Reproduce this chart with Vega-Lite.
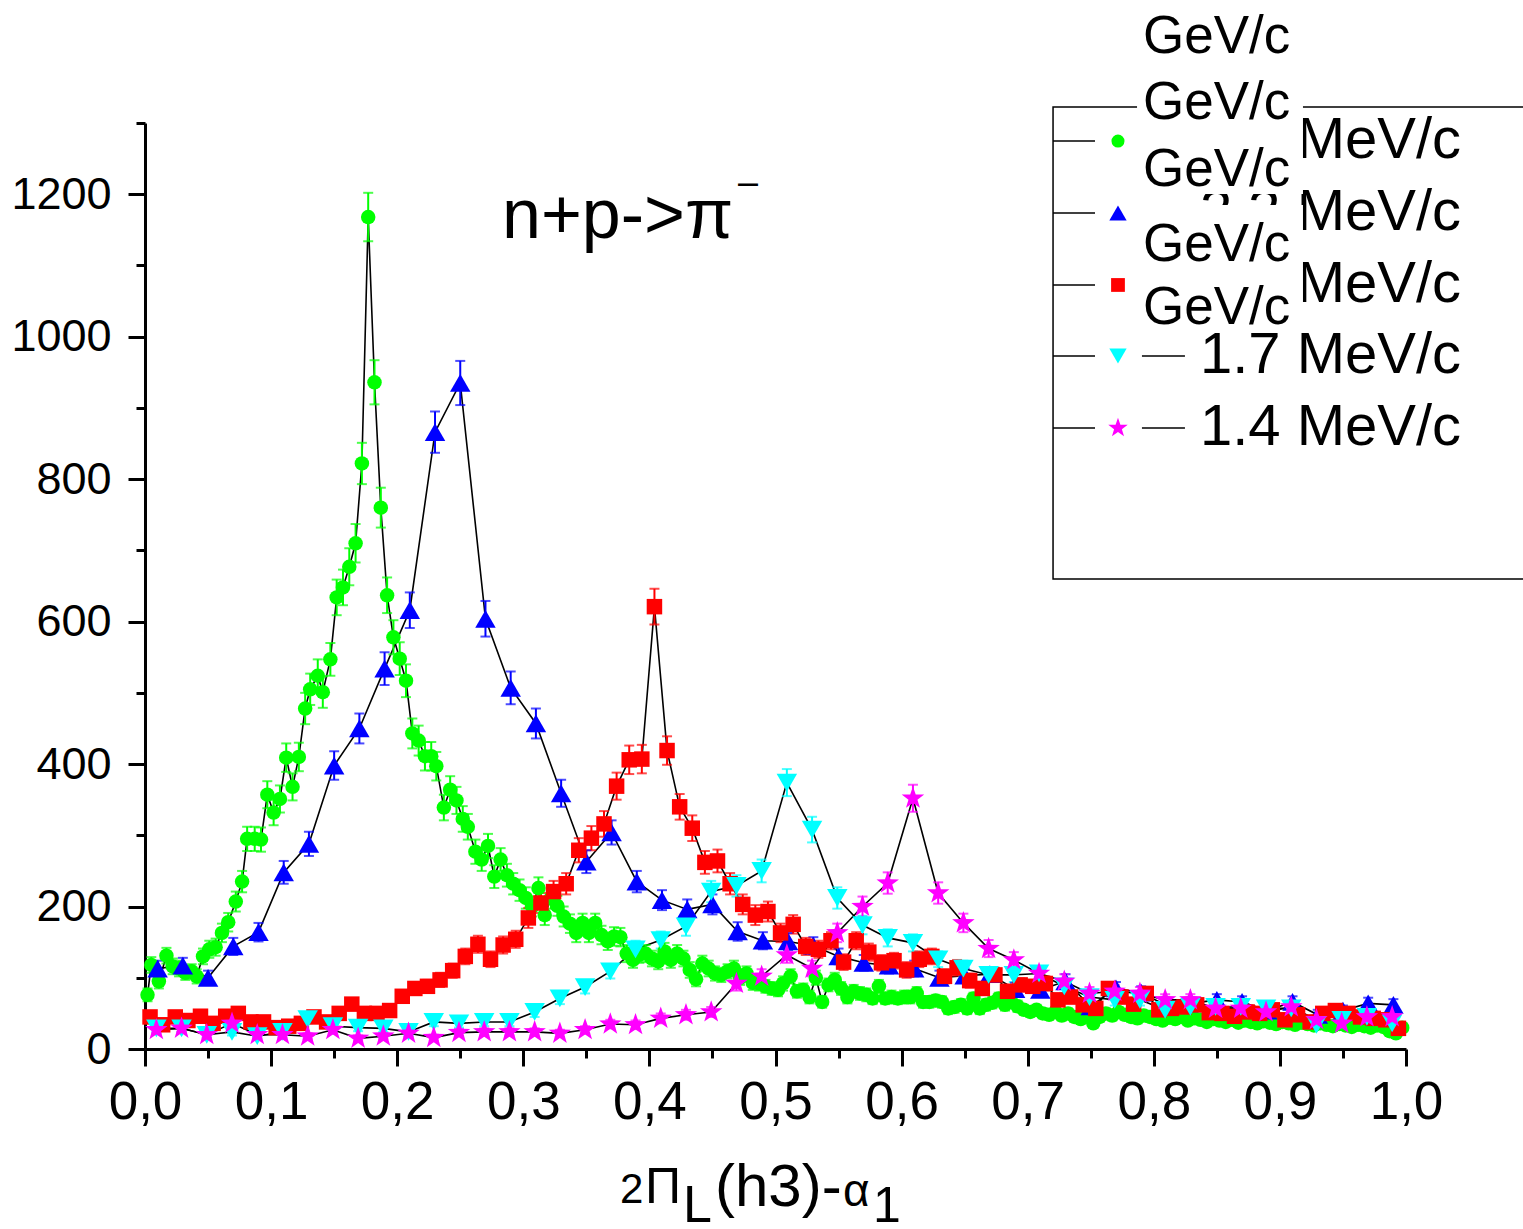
{
"$schema":"https://vega.github.io/schema/vega-lite/v6.json",
"width":1261,"height":926,
"autosize":{"type":"none"},
"padding":{"left":145,"top":123,"right":117,"bottom":180},
"background":"white",
"config":{"view":{"stroke":null},"axis":{"grid":false}},
"datasets":{"pts":[
{"s":"g","x":0.002,"y":76,"e":9},{"s":"g","x":0.005,"y":118,"e":11},{"s":"g","x":0.011,"y":95,"e":10},{"s":"g","x":0.017,"y":131,"e":11},{"s":"g","x":0.022,"y":116,"e":11},{"s":"g","x":0.027,"y":113,"e":11},{"s":"g","x":0.032,"y":107,"e":10},{"s":"g","x":0.037,"y":109,"e":10},{"s":"g","x":0.041,"y":102,"e":10},{"s":"g","x":0.046,"y":130,"e":11},{"s":"g","x":0.051,"y":140,"e":12},{"s":"g","x":0.056,"y":143,"e":12},{"s":"g","x":0.061,"y":163,"e":13},{"s":"g","x":0.066,"y":178,"e":13},{"s":"g","x":0.072,"y":207,"e":14},{"s":"g","x":0.077,"y":235,"e":15},{"s":"g","x":0.081,"y":295,"e":17},{"s":"g","x":0.087,"y":295,"e":17},{"s":"g","x":0.092,"y":294,"e":17},{"s":"g","x":0.097,"y":357,"e":19},{"s":"g","x":0.102,"y":332,"e":18},{"s":"g","x":0.107,"y":351,"e":19},{"s":"g","x":0.112,"y":409,"e":20},{"s":"g","x":0.117,"y":368,"e":19},{"s":"g","x":0.122,"y":410,"e":20},{"s":"g","x":0.127,"y":478,"e":22},{"s":"g","x":0.131,"y":505,"e":22},{"s":"g","x":0.137,"y":524,"e":23},{"s":"g","x":0.141,"y":501,"e":22},{"s":"g","x":0.147,"y":547,"e":23},{"s":"g","x":0.152,"y":634,"e":25},{"s":"g","x":0.157,"y":648,"e":25},{"s":"g","x":0.162,"y":677,"e":26},{"s":"g","x":0.167,"y":710,"e":27},{"s":"g","x":0.172,"y":822,"e":29},{"s":"g","x":0.177,"y":1168,"e":34},{"s":"g","x":0.182,"y":936,"e":31},{"s":"g","x":0.187,"y":760,"e":28},{"s":"g","x":0.192,"y":637,"e":25},{"s":"g","x":0.197,"y":578,"e":24},{"s":"g","x":0.202,"y":548,"e":23},{"s":"g","x":0.207,"y":517,"e":23},{"s":"g","x":0.212,"y":443,"e":21},{"s":"g","x":0.217,"y":433,"e":21},{"s":"g","x":0.222,"y":411,"e":20},{"s":"g","x":0.227,"y":411,"e":20},{"s":"g","x":0.231,"y":397,"e":20},{"s":"g","x":0.237,"y":339,"e":18},{"s":"g","x":0.242,"y":364,"e":19},{"s":"g","x":0.247,"y":349,"e":19},{"s":"g","x":0.252,"y":323,"e":18},{"s":"g","x":0.256,"y":312,"e":18},{"s":"g","x":0.262,"y":277,"e":17},{"s":"g","x":0.267,"y":266,"e":16},{"s":"g","x":0.272,"y":285,"e":17},{"s":"g","x":0.277,"y":242,"e":16},{"s":"g","x":0.282,"y":266,"e":16},{"s":"g","x":0.287,"y":244,"e":16},{"s":"g","x":0.292,"y":232,"e":15},{"s":"g","x":0.297,"y":223,"e":15},{"s":"g","x":0.302,"y":212,"e":15},{"s":"g","x":0.307,"y":200,"e":14},{"s":"g","x":0.312,"y":226,"e":15},{"s":"g","x":0.317,"y":188,"e":14},{"s":"g","x":0.322,"y":212,"e":15},{"s":"g","x":0.327,"y":201,"e":14},{"s":"g","x":0.332,"y":186,"e":14},{"s":"g","x":0.337,"y":176,"e":13},{"s":"g","x":0.342,"y":163,"e":13},{"s":"g","x":0.347,"y":177,"e":13},{"s":"g","x":0.352,"y":163,"e":13},{"s":"g","x":0.357,"y":177,"e":13},{"s":"g","x":0.362,"y":160,"e":13},{"s":"g","x":0.367,"y":151,"e":12},{"s":"g","x":0.372,"y":158,"e":13},{"s":"g","x":0.377,"y":157,"e":13},{"s":"g","x":0.382,"y":134,"e":12},{"s":"g","x":0.387,"y":125,"e":11},{"s":"g","x":0.392,"y":132,"e":11},{"s":"g","x":0.397,"y":134,"e":12},{"s":"g","x":0.402,"y":127,"e":11},{"s":"g","x":0.407,"y":123,"e":11},{"s":"g","x":0.412,"y":137,"e":12},{"s":"g","x":0.417,"y":125,"e":11},{"s":"g","x":0.422,"y":134,"e":12},{"s":"g","x":0.427,"y":127,"e":11},{"s":"g","x":0.432,"y":111,"e":11},{"s":"g","x":0.437,"y":98,"e":10},{"s":"g","x":0.442,"y":120,"e":11},{"s":"g","x":0.447,"y":113,"e":11},{"s":"g","x":0.452,"y":106,"e":10},{"s":"g","x":0.457,"y":104,"e":10},{"s":"g","x":0.462,"y":109,"e":10},{"s":"g","x":0.467,"y":113,"e":11},{"s":"g","x":0.472,"y":100,"e":10},{"s":"g","x":0.477,"y":106,"e":10},{"s":"g","x":0.482,"y":93,"e":10},{"s":"g","x":0.487,"y":92,"e":10},{"s":"g","x":0.492,"y":88,"e":9},{"s":"g","x":0.497,"y":85,"e":9},{"s":"g","x":0.502,"y":83,"e":9},{"s":"g","x":0.506,"y":92,"e":10},{"s":"g","x":0.512,"y":102,"e":10},{"s":"g","x":0.517,"y":81,"e":9},{"s":"g","x":0.522,"y":83,"e":9},{"s":"g","x":0.527,"y":73,"e":9},{"s":"g","x":0.532,"y":100,"e":10},{"s":"g","x":0.537,"y":66,"e":8},{"s":"g","x":0.542,"y":90,"e":9},{"s":"g","x":0.547,"y":97,"e":10},{"s":"g","x":0.552,"y":85,"e":9},{"s":"g","x":0.557,"y":73,"e":9},{"s":"g","x":0.562,"y":81,"e":9},{"s":"g","x":0.567,"y":78,"e":9},{"s":"g","x":0.572,"y":76,"e":9},{"s":"g","x":0.577,"y":71,"e":8},{"s":"g","x":0.582,"y":88,"e":9},{"s":"g","x":0.587,"y":71,"e":8},{"s":"g","x":0.592,"y":73,"e":9},{"s":"g","x":0.597,"y":71,"e":8},{"s":"g","x":0.602,"y":73,"e":9},{"s":"g","x":0.607,"y":73,"e":9},{"s":"g","x":0.612,"y":78,"e":9},{"s":"g","x":0.617,"y":66,"e":8},{"s":"g","x":0.622,"y":66,"e":8},{"s":"g","x":0.627,"y":68,"e":8},{"s":"g","x":0.632,"y":66,"e":8},{"s":"g","x":0.637,"y":57,"e":8},{"s":"g","x":0.642,"y":59,"e":8},{"s":"g","x":0.647,"y":62,"e":8},{"s":"g","x":0.652,"y":57,"e":8},{"s":"g","x":0.657,"y":71,"e":8},{"s":"g","x":0.662,"y":57,"e":8},{"s":"g","x":0.667,"y":62,"e":8},{"s":"g","x":0.672,"y":65,"e":8},{"s":"g","x":0.677,"y":71,"e":8},{"s":"g","x":0.682,"y":62,"e":8},{"s":"g","x":0.687,"y":66,"e":8},{"s":"g","x":0.692,"y":60,"e":8},{"s":"g","x":0.697,"y":55,"e":7},{"s":"g","x":0.702,"y":52,"e":7},{"s":"g","x":0.707,"y":55,"e":7},{"s":"g","x":0.712,"y":50,"e":7},{"s":"g","x":0.717,"y":48,"e":7},{"s":"g","x":0.722,"y":52,"e":7},{"s":"g","x":0.727,"y":47,"e":7},{"s":"g","x":0.732,"y":50,"e":7},{"s":"g","x":0.737,"y":45,"e":7},{"s":"g","x":0.742,"y":42,"e":6},{"s":"g","x":0.747,"y":48,"e":7},{"s":"g","x":0.752,"y":36,"e":6},{"s":"g","x":0.757,"y":45,"e":7},{"s":"g","x":0.762,"y":50,"e":7},{"s":"g","x":0.767,"y":47,"e":7},{"s":"g","x":0.772,"y":52,"e":7},{"s":"g","x":0.777,"y":48,"e":7},{"s":"g","x":0.782,"y":45,"e":7},{"s":"g","x":0.787,"y":43,"e":7},{"s":"g","x":0.792,"y":47,"e":7},{"s":"g","x":0.797,"y":45,"e":7},{"s":"g","x":0.802,"y":42,"e":6},{"s":"g","x":0.807,"y":40,"e":6},{"s":"g","x":0.812,"y":44,"e":7},{"s":"g","x":0.817,"y":42,"e":6},{"s":"g","x":0.822,"y":45,"e":7},{"s":"g","x":0.827,"y":40,"e":6},{"s":"g","x":0.832,"y":43,"e":7},{"s":"g","x":0.837,"y":41,"e":6},{"s":"g","x":0.842,"y":38,"e":6},{"s":"g","x":0.847,"y":42,"e":6},{"s":"g","x":0.852,"y":40,"e":6},{"s":"g","x":0.857,"y":38,"e":6},{"s":"g","x":0.862,"y":41,"e":6},{"s":"g","x":0.867,"y":37,"e":6},{"s":"g","x":0.872,"y":40,"e":6},{"s":"g","x":0.877,"y":38,"e":6},{"s":"g","x":0.882,"y":36,"e":6},{"s":"g","x":0.887,"y":39,"e":6},{"s":"g","x":0.892,"y":37,"e":6},{"s":"g","x":0.897,"y":35,"e":6},{"s":"g","x":0.902,"y":38,"e":6},{"s":"g","x":0.907,"y":36,"e":6},{"s":"g","x":0.912,"y":34,"e":6},{"s":"g","x":0.917,"y":37,"e":6},{"s":"g","x":0.922,"y":35,"e":6},{"s":"g","x":0.927,"y":33,"e":6},{"s":"g","x":0.932,"y":36,"e":6},{"s":"g","x":0.937,"y":34,"e":6},{"s":"g","x":0.942,"y":32,"e":6},{"s":"g","x":0.947,"y":35,"e":6},{"s":"g","x":0.952,"y":33,"e":6},{"s":"g","x":0.957,"y":31,"e":6},{"s":"g","x":0.962,"y":34,"e":6},{"s":"g","x":0.967,"y":32,"e":6},{"s":"g","x":0.972,"y":30,"e":5},{"s":"g","x":0.977,"y":33,"e":6},{"s":"g","x":0.982,"y":31,"e":6},{"s":"g","x":0.987,"y":25,"e":5},{"s":"g","x":0.992,"y":22,"e":5},{"s":"g","x":0.997,"y":30,"e":5},
{"s":"b","x":0.01,"y":113,"e":11},{"s":"b","x":0.03,"y":117,"e":11},{"s":"b","x":0.05,"y":100,"e":10},{"s":"b","x":0.07,"y":144,"e":12},{"s":"b","x":0.09,"y":164,"e":13},{"s":"b","x":0.11,"y":248,"e":16},{"s":"b","x":0.13,"y":288,"e":17},{"s":"b","x":0.15,"y":398,"e":20},{"s":"b","x":0.17,"y":450,"e":21},{"s":"b","x":0.19,"y":534,"e":23},{"s":"b","x":0.21,"y":616,"e":25},{"s":"b","x":0.23,"y":866,"e":29},{"s":"b","x":0.25,"y":935,"e":31},{"s":"b","x":0.27,"y":604,"e":25},{"s":"b","x":0.29,"y":507,"e":23},{"s":"b","x":0.31,"y":457,"e":21},{"s":"b","x":0.33,"y":359,"e":19},{"s":"b","x":0.35,"y":263,"e":16},{"s":"b","x":0.37,"y":304,"e":17},{"s":"b","x":0.39,"y":235,"e":15},{"s":"b","x":0.41,"y":209,"e":14},{"s":"b","x":0.43,"y":196,"e":14},{"s":"b","x":0.45,"y":203,"e":14},{"s":"b","x":0.47,"y":165,"e":13},{"s":"b","x":0.49,"y":152,"e":12},{"s":"b","x":0.51,"y":151,"e":12},{"s":"b","x":0.53,"y":145,"e":12},{"s":"b","x":0.55,"y":130,"e":11},{"s":"b","x":0.57,"y":121,"e":11},{"s":"b","x":0.59,"y":117,"e":11},{"s":"b","x":0.61,"y":113,"e":11},{"s":"b","x":0.63,"y":100,"e":10},{"s":"b","x":0.65,"y":103,"e":10},{"s":"b","x":0.67,"y":105,"e":10},{"s":"b","x":0.69,"y":84,"e":9},{"s":"b","x":0.71,"y":83,"e":9},{"s":"b","x":0.73,"y":95,"e":10},{"s":"b","x":0.75,"y":60,"e":8},{"s":"b","x":0.77,"y":85,"e":9},{"s":"b","x":0.79,"y":79,"e":9},{"s":"b","x":0.81,"y":61,"e":8},{"s":"b","x":0.83,"y":64,"e":8},{"s":"b","x":0.85,"y":69,"e":8},{"s":"b","x":0.87,"y":66,"e":8},{"s":"b","x":0.89,"y":54,"e":7},{"s":"b","x":0.91,"y":66,"e":8},{"s":"b","x":0.93,"y":48,"e":7},{"s":"b","x":0.95,"y":54,"e":7},{"s":"b","x":0.97,"y":64,"e":8},{"s":"b","x":0.99,"y":62,"e":8},
{"s":"r","x":0.004,"y":45,"e":7},{"s":"r","x":0.014,"y":34,"e":6},{"s":"r","x":0.024,"y":45,"e":7},{"s":"r","x":0.034,"y":40,"e":6},{"s":"r","x":0.044,"y":46,"e":7},{"s":"r","x":0.054,"y":36,"e":6},{"s":"r","x":0.064,"y":46,"e":7},{"s":"r","x":0.074,"y":50,"e":7},{"s":"r","x":0.084,"y":38,"e":6},{"s":"r","x":0.094,"y":38,"e":6},{"s":"r","x":0.104,"y":30,"e":5},{"s":"r","x":0.114,"y":32,"e":6},{"s":"r","x":0.124,"y":36,"e":6},{"s":"r","x":0.134,"y":45,"e":7},{"s":"r","x":0.144,"y":38,"e":6},{"s":"r","x":0.154,"y":50,"e":7},{"s":"r","x":0.164,"y":63,"e":8},{"s":"r","x":0.174,"y":50,"e":7},{"s":"r","x":0.184,"y":50,"e":7},{"s":"r","x":0.194,"y":54,"e":7},{"s":"r","x":0.204,"y":74,"e":9},{"s":"r","x":0.214,"y":85,"e":9},{"s":"r","x":0.224,"y":88,"e":9},{"s":"r","x":0.234,"y":97,"e":10},{"s":"r","x":0.244,"y":110,"e":10},{"s":"r","x":0.254,"y":130,"e":11},{"s":"r","x":0.264,"y":147,"e":12},{"s":"r","x":0.274,"y":126,"e":11},{"s":"r","x":0.284,"y":146,"e":12},{"s":"r","x":0.294,"y":154,"e":12},{"s":"r","x":0.304,"y":184,"e":14},{"s":"r","x":0.314,"y":205,"e":14},{"s":"r","x":0.324,"y":221,"e":15},{"s":"r","x":0.334,"y":232,"e":15},{"s":"r","x":0.344,"y":279,"e":17},{"s":"r","x":0.354,"y":296,"e":17},{"s":"r","x":0.364,"y":316,"e":18},{"s":"r","x":0.374,"y":369,"e":19},{"s":"r","x":0.384,"y":406,"e":20},{"s":"r","x":0.394,"y":407,"e":20},{"s":"r","x":0.404,"y":621,"e":25},{"s":"r","x":0.414,"y":419,"e":20},{"s":"r","x":0.424,"y":340,"e":18},{"s":"r","x":0.434,"y":310,"e":18},{"s":"r","x":0.444,"y":262,"e":16},{"s":"r","x":0.454,"y":264,"e":16},{"s":"r","x":0.464,"y":232,"e":15},{"s":"r","x":0.474,"y":203,"e":14},{"s":"r","x":0.484,"y":188,"e":14},{"s":"r","x":0.494,"y":193,"e":14},{"s":"r","x":0.504,"y":163,"e":13},{"s":"r","x":0.514,"y":175,"e":13},{"s":"r","x":0.524,"y":144,"e":12},{"s":"r","x":0.534,"y":140,"e":12},{"s":"r","x":0.544,"y":152,"e":12},{"s":"r","x":0.554,"y":122,"e":11},{"s":"r","x":0.564,"y":152,"e":12},{"s":"r","x":0.574,"y":136,"e":12},{"s":"r","x":0.584,"y":121,"e":11},{"s":"r","x":0.594,"y":124,"e":11},{"s":"r","x":0.604,"y":111,"e":11},{"s":"r","x":0.614,"y":126,"e":11},{"s":"r","x":0.624,"y":130,"e":11},{"s":"r","x":0.634,"y":102,"e":10},{"s":"r","x":0.644,"y":114,"e":11},{"s":"r","x":0.654,"y":96,"e":10},{"s":"r","x":0.664,"y":85,"e":9},{"s":"r","x":0.674,"y":104,"e":10},{"s":"r","x":0.684,"y":81,"e":9},{"s":"r","x":0.694,"y":90,"e":9},{"s":"r","x":0.704,"y":88,"e":9},{"s":"r","x":0.714,"y":92,"e":10},{"s":"r","x":0.724,"y":69,"e":8},{"s":"r","x":0.734,"y":73,"e":9},{"s":"r","x":0.744,"y":62,"e":8},{"s":"r","x":0.754,"y":57,"e":8},{"s":"r","x":0.764,"y":85,"e":9},{"s":"r","x":0.774,"y":73,"e":9},{"s":"r","x":0.784,"y":63,"e":8},{"s":"r","x":0.794,"y":78,"e":9},{"s":"r","x":0.804,"y":55,"e":7},{"s":"r","x":0.814,"y":57,"e":8},{"s":"r","x":0.824,"y":59,"e":8},{"s":"r","x":0.834,"y":62,"e":8},{"s":"r","x":0.844,"y":51,"e":7},{"s":"r","x":0.854,"y":50,"e":7},{"s":"r","x":0.864,"y":46,"e":7},{"s":"r","x":0.874,"y":52,"e":7},{"s":"r","x":0.884,"y":50,"e":7},{"s":"r","x":0.894,"y":55,"e":7},{"s":"r","x":0.904,"y":41,"e":6},{"s":"r","x":0.914,"y":48,"e":7},{"s":"r","x":0.924,"y":38,"e":6},{"s":"r","x":0.934,"y":50,"e":7},{"s":"r","x":0.944,"y":54,"e":7},{"s":"r","x":0.954,"y":50,"e":7},{"s":"r","x":0.964,"y":45,"e":7},{"s":"r","x":0.974,"y":43,"e":7},{"s":"r","x":0.984,"y":41,"e":6},{"s":"r","x":0.994,"y":29,"e":5},
{"s":"c","x":0.009,"y":29,"e":5},{"s":"c","x":0.029,"y":29,"e":5},{"s":"c","x":0.049,"y":20,"e":4},{"s":"c","x":0.069,"y":24,"e":5},{"s":"c","x":0.089,"y":18,"e":4},{"s":"c","x":0.109,"y":24,"e":5},{"s":"c","x":0.129,"y":42,"e":6},{"s":"c","x":0.149,"y":32,"e":6},{"s":"c","x":0.169,"y":30,"e":5},{"s":"c","x":0.189,"y":29,"e":5},{"s":"c","x":0.209,"y":24,"e":5},{"s":"c","x":0.229,"y":38,"e":6},{"s":"c","x":0.249,"y":36,"e":6},{"s":"c","x":0.269,"y":38,"e":6},{"s":"c","x":0.289,"y":38,"e":6},{"s":"c","x":0.309,"y":52,"e":7},{"s":"c","x":0.329,"y":71,"e":8},{"s":"c","x":0.349,"y":87,"e":9},{"s":"c","x":0.369,"y":109,"e":10},{"s":"c","x":0.389,"y":140,"e":12},{"s":"c","x":0.409,"y":153,"e":12},{"s":"c","x":0.429,"y":172,"e":13},{"s":"c","x":0.449,"y":221,"e":15},{"s":"c","x":0.469,"y":229,"e":15},{"s":"c","x":0.489,"y":250,"e":16},{"s":"c","x":0.509,"y":374,"e":19},{"s":"c","x":0.529,"y":308,"e":18},{"s":"c","x":0.549,"y":212,"e":15},{"s":"c","x":0.569,"y":174,"e":13},{"s":"c","x":0.589,"y":156,"e":12},{"s":"c","x":0.609,"y":149,"e":12},{"s":"c","x":0.629,"y":126,"e":11},{"s":"c","x":0.649,"y":113,"e":11},{"s":"c","x":0.669,"y":104,"e":10},{"s":"c","x":0.689,"y":104,"e":10},{"s":"c","x":0.709,"y":106,"e":10},{"s":"c","x":0.729,"y":88,"e":9},{"s":"c","x":0.749,"y":73,"e":9},{"s":"c","x":0.769,"y":69,"e":8},{"s":"c","x":0.789,"y":69,"e":8},{"s":"c","x":0.809,"y":55,"e":7},{"s":"c","x":0.829,"y":59,"e":8},{"s":"c","x":0.849,"y":59,"e":8},{"s":"c","x":0.869,"y":59,"e":8},{"s":"c","x":0.889,"y":57,"e":8},{"s":"c","x":0.909,"y":57,"e":8},{"s":"c","x":0.929,"y":34,"e":6},{"s":"c","x":0.949,"y":41,"e":6},{"s":"c","x":0.969,"y":45,"e":7},{"s":"c","x":0.989,"y":36,"e":6},
{"s":"m","x":0.009,"y":27,"e":5},{"s":"m","x":0.029,"y":29,"e":5},{"s":"m","x":0.049,"y":20,"e":4},{"s":"m","x":0.069,"y":36,"e":6},{"s":"m","x":0.089,"y":20,"e":4},{"s":"m","x":0.109,"y":20,"e":4},{"s":"m","x":0.129,"y":18,"e":4},{"s":"m","x":0.149,"y":27,"e":5},{"s":"m","x":0.169,"y":15,"e":4},{"s":"m","x":0.189,"y":18,"e":4},{"s":"m","x":0.209,"y":22,"e":5},{"s":"m","x":0.229,"y":16,"e":4},{"s":"m","x":0.249,"y":23,"e":5},{"s":"m","x":0.269,"y":24,"e":5},{"s":"m","x":0.289,"y":24,"e":5},{"s":"m","x":0.309,"y":24,"e":5},{"s":"m","x":0.329,"y":22,"e":5},{"s":"m","x":0.349,"y":27,"e":5},{"s":"m","x":0.369,"y":35,"e":6},{"s":"m","x":0.389,"y":34,"e":6},{"s":"m","x":0.409,"y":43,"e":7},{"s":"m","x":0.429,"y":48,"e":7},{"s":"m","x":0.449,"y":52,"e":7},{"s":"m","x":0.469,"y":92,"e":10},{"s":"m","x":0.489,"y":102,"e":10},{"s":"m","x":0.509,"y":132,"e":11},{"s":"m","x":0.529,"y":113,"e":11},{"s":"m","x":0.549,"y":163,"e":13},{"s":"m","x":0.569,"y":200,"e":14},{"s":"m","x":0.589,"y":233,"e":15},{"s":"m","x":0.609,"y":352,"e":19},{"s":"m","x":0.629,"y":219,"e":15},{"s":"m","x":0.649,"y":177,"e":13},{"s":"m","x":0.669,"y":141,"e":12},{"s":"m","x":0.689,"y":125,"e":11},{"s":"m","x":0.709,"y":106,"e":10},{"s":"m","x":0.729,"y":95,"e":10},{"s":"m","x":0.749,"y":78,"e":9},{"s":"m","x":0.769,"y":81,"e":9},{"s":"m","x":0.789,"y":78,"e":9},{"s":"m","x":0.809,"y":69,"e":8},{"s":"m","x":0.829,"y":69,"e":8},{"s":"m","x":0.849,"y":57,"e":8},{"s":"m","x":0.869,"y":57,"e":8},{"s":"m","x":0.889,"y":52,"e":7},{"s":"m","x":0.909,"y":59,"e":8},{"s":"m","x":0.929,"y":41,"e":6},{"s":"m","x":0.949,"y":36,"e":6},{"s":"m","x":0.969,"y":45,"e":7},{"s":"m","x":0.989,"y":45,"e":7}
]},
"layer":[
{"data":{"name":"pts"},
 "mark":{"type":"line","color":"black","strokeWidth":1.6},
 "encoding":{
  "x":{"field":"x","type":"quantitative","title":null,"scale":{"domain":[0,1],"nice":false,"zero":false},
   "axis":{"values":[0,0.05,0.1,0.15,0.2,0.25,0.3,0.35,0.4,0.45,0.5,0.55,0.6,0.65,0.7,0.75,0.8,0.85,0.9,0.95,1],
    "labelExpr":"round(datum.value*100)%10===0 ? replace(format(datum.value,'.1f'),'.',',') : ''",
    "tickSize":{"condition":{"test":"round(datum.value*100)%10===0","value":17},"value":9},
    "tickWidth":3,"tickColor":"black","domainColor":"black","domainWidth":3,
    "labelFont":"Liberation Sans","labelFontSize":53,"labelColor":"black","labelPadding":10,
    "labelFlush":false,"labelOverlap":false,"labelBound":false,"grid":false}},
  "y":{"field":"y","type":"quantitative","title":null,"scale":{"domain":[0,1300],"nice":false},
   "axis":{"values":[0,100,200,300,400,500,600,700,800,900,1000,1100,1200,1300],
    "labelExpr":"datum.value%200===0 ? format(datum.value,'d') : ''",
    "tickSize":{"condition":{"test":"datum.value%200===0","value":17},"value":9},
    "tickWidth":3,"tickColor":"black","domainColor":"black","domainWidth":3,
    "labelFont":"Liberation Sans","labelFontSize":45,"labelColor":"black","labelPadding":17,
    "labelFlush":false,"labelOverlap":false,"labelBound":false,"grid":false}},
  "detail":{"field":"s"}}},
{"data":{"name":"pts"},
 "mark":{"type":"errorbar","ticks":{"size":10},"thickness":2},
 "encoding":{
  "x":{"field":"x","type":"quantitative","title":null},
  "y":{"field":"y","type":"quantitative","title":null},
  "yError":{"field":"e"},
  "color":{"field":"s","type":"nominal","legend":null,"scale":{"domain":["g","b","r","c","m"],"range":["#00ff00","#0000ff","#ff0000","#00ffff","#ff00ff"]}}}},
{"data":{"name":"pts"},
 "mark":{"type":"point","filled":true,"opacity":1},
 "encoding":{
  "x":{"field":"x","type":"quantitative","title":null},
  "y":{"field":"y","type":"quantitative","title":null},
  "color":{"field":"s","type":"nominal","legend":null},
  "size":{"field":"s","type":"nominal","legend":null,"scale":{"type":"ordinal","domain":["g","b","r","c","m"],"range":[210,420,240,420,560]}},
  "shape":{"field":"s","type":"nominal","legend":null,"scale":{"domain":["g","b","r","c","m"],"range":["circle","triangle-up","square","triangle-down","M0,-1L0.235,-0.324L0.951,-0.309L0.38,0.124L0.588,0.809L0,0.4L-0.588,0.809L-0.38,0.124L-0.951,-0.309L-0.235,-0.324Z"]}}}},
{"data":{"values":[{}]},
 "layer":[
  {"mark":{"type":"rect","filled":false,"stroke":"black","strokeWidth":1.5},
   "encoding":{"x":{"datum":0.7201},"x2":{"datum":1.3},"y":{"datum":1322.5},"y2":{"datum":659.8}}},
  {"mark":{"type":"rule","color":"black","strokeWidth":1.5},"encoding":{"x":{"datum":0.7201},"x2":{"datum":0.7534},"y":{"datum":1274.7}}},
  {"mark":{"type":"rule","color":"black","strokeWidth":1.5},"encoding":{"x":{"datum":0.7201},"x2":{"datum":0.7534},"y":{"datum":1173.7}}},
  {"mark":{"type":"rule","color":"black","strokeWidth":1.5},"encoding":{"x":{"datum":0.7201},"x2":{"datum":0.7534},"y":{"datum":1072.6}}},
  {"mark":{"type":"rule","color":"black","strokeWidth":1.5},"encoding":{"x":{"datum":0.7201},"x2":{"datum":0.7534},"y":{"datum":972.9}}},
  {"mark":{"type":"rule","color":"black","strokeWidth":1.5},"encoding":{"x":{"datum":0.7201},"x2":{"datum":0.7534},"y":{"datum":871.8}}},
  {"mark":{"type":"rule","color":"black","strokeWidth":1.5},"encoding":{"x":{"datum":0.7906},"x2":{"datum":0.8247},"y":{"datum":972.9}}},
  {"mark":{"type":"rule","color":"black","strokeWidth":1.5},"encoding":{"x":{"datum":0.7906},"x2":{"datum":0.8247},"y":{"datum":871.8}}},
  {"mark":{"type":"point","filled":true,"opacity":1,"size":170,"shape":"circle","color":"#00ff00"},"encoding":{"x":{"datum":0.7716},"y":{"datum":1274.7}}},
  {"mark":{"type":"point","filled":true,"opacity":1,"size":300,"shape":"triangle-up","color":"#0000ff"},"encoding":{"x":{"datum":0.7716},"y":{"datum":1173.7}}},
  {"mark":{"type":"point","filled":true,"opacity":1,"size":190,"shape":"square","color":"#ff0000"},"encoding":{"x":{"datum":0.7716},"y":{"datum":1072.6}}},
  {"mark":{"type":"point","filled":true,"opacity":1,"size":300,"shape":"triangle-down","color":"#00ffff"},"encoding":{"x":{"datum":0.7716},"y":{"datum":972.9}}},
  {"mark":{"type":"point","filled":true,"opacity":1,"size":420,"shape":"M0,-1L0.235,-0.324L0.951,-0.309L0.38,0.124L0.588,0.809L0,0.4L-0.588,0.809L-0.38,0.124L-0.951,-0.309L-0.235,-0.324Z","color":"#ff00ff"},"encoding":{"x":{"datum":0.7716},"y":{"datum":871.8}}},
  {"mark":{"type":"text","text":"3.0 MeV/c","align":"left","baseline":"middle","font":"Liberation Sans","fontSize":58,"color":"black"},"encoding":{"x":{"datum":0.8366},"y":{"datum":1274.7}}},
  {"mark":{"type":"text","text":"2.3 MeV/c","align":"left","baseline":"middle","font":"Liberation Sans","fontSize":58,"color":"black"},"encoding":{"x":{"datum":0.8366},"y":{"datum":1173.7}}},
  {"mark":{"type":"text","text":"2.0 MeV/c","align":"left","baseline":"middle","font":"Liberation Sans","fontSize":58,"color":"black"},"encoding":{"x":{"datum":0.8366},"y":{"datum":1072.6}}},
  {"mark":{"type":"text","text":"1.7 MeV/c","align":"left","baseline":"middle","font":"Liberation Sans","fontSize":58,"color":"black"},"encoding":{"x":{"datum":0.8366},"y":{"datum":972.9}}},
  {"mark":{"type":"text","text":"1.4 MeV/c","align":"left","baseline":"middle","font":"Liberation Sans","fontSize":58,"color":"black"},"encoding":{"x":{"datum":0.8366},"y":{"datum":871.8}}},
  {"mark":{"type":"rect","color":"white","opacity":1},"encoding":{"x":{"datum":0.7867},"x2":{"datum":0.9183},"y":{"datum":1384.2},"y2":{"datum":1288.8}}},
  {"mark":{"type":"rect","color":"white","opacity":1},"encoding":{"x":{"datum":0.7867},"x2":{"datum":0.9183},"y":{"datum":1290.2},"y2":{"datum":1200.3}}},
  {"mark":{"type":"rect","color":"white","opacity":1},"encoding":{"x":{"datum":0.7867},"x2":{"datum":0.9183},"y":{"datum":1184.9},"y2":{"datum":1095.0}}},
  {"mark":{"type":"rect","color":"white","opacity":1},"encoding":{"x":{"datum":0.7867},"x2":{"datum":0.9183},"y":{"datum":1096.4},"y2":{"datum":1006.6}}},
  {"mark":{"type":"text","text":"GeV/c","align":"left","baseline":"middle","font":"Liberation Sans","fontSize":53,"color":"black"},"encoding":{"x":{"datum":0.7914},"y":{"datum":1420.7}}},
  {"mark":{"type":"text","text":"GeV/c","align":"left","baseline":"middle","font":"Liberation Sans","fontSize":53,"color":"black"},"encoding":{"x":{"datum":0.7914},"y":{"datum":1328.1}}},
  {"mark":{"type":"text","text":"GeV/c","align":"left","baseline":"middle","font":"Liberation Sans","fontSize":53,"color":"black"},"encoding":{"x":{"datum":0.7914},"y":{"datum":1234.0}}},
  {"mark":{"type":"text","text":"GeV/c","align":"left","baseline":"middle","font":"Liberation Sans","fontSize":53,"color":"black"},"encoding":{"x":{"datum":0.7914},"y":{"datum":1128.7}}},
  {"mark":{"type":"text","text":"GeV/c","align":"left","baseline":"middle","font":"Liberation Sans","fontSize":53,"color":"black"},"encoding":{"x":{"datum":0.7914},"y":{"datum":1040.3}}},
  {"mark":{"type":"text","text":"n+p->π","align":"left","baseline":"alphabetic","font":"Liberation Sans","fontSize":70,"color":"black"},"encoding":{"x":{"datum":0.2831},"y":{"datum":1138.6}}},
  {"mark":{"type":"text","text":"–","align":"left","baseline":"middle","font":"Liberation Sans","fontSize":36,"color":"black"},"encoding":{"x":{"datum":0.4703},"y":{"datum":1215.8}}},
  {"mark":{"type":"text","text":"2","align":"left","baseline":"alphabetic","font":"Liberation Sans","fontSize":42,"color":"black"},"encoding":{"x":{"datum":0.3767},"y":{"datum":-216}}},
  {"mark":{"type":"text","text":"Π","align":"left","baseline":"alphabetic","font":"Liberation Sans","fontSize":50,"color":"black"},"encoding":{"x":{"datum":0.3965},"y":{"datum":-216}}},
  {"mark":{"type":"text","text":"L","align":"left","baseline":"alphabetic","font":"Liberation Sans","fontSize":52,"color":"black"},"encoding":{"x":{"datum":0.4266},"y":{"datum":-243}}},
  {"mark":{"type":"text","text":"(h3)-","align":"left","baseline":"alphabetic","font":"Liberation Sans","fontSize":60,"color":"black"},"encoding":{"x":{"datum":0.452},"y":{"datum":-220}}},
  {"mark":{"type":"text","text":"α","align":"left","baseline":"alphabetic","font":"Liberation Sans","fontSize":46,"color":"black"},"encoding":{"x":{"datum":0.5535},"y":{"datum":-220}}},
  {"mark":{"type":"text","text":"1","align":"left","baseline":"alphabetic","font":"Liberation Sans","fontSize":50,"color":"black"},"encoding":{"x":{"datum":0.5773},"y":{"datum":-243}}}
 ]}
]
}
